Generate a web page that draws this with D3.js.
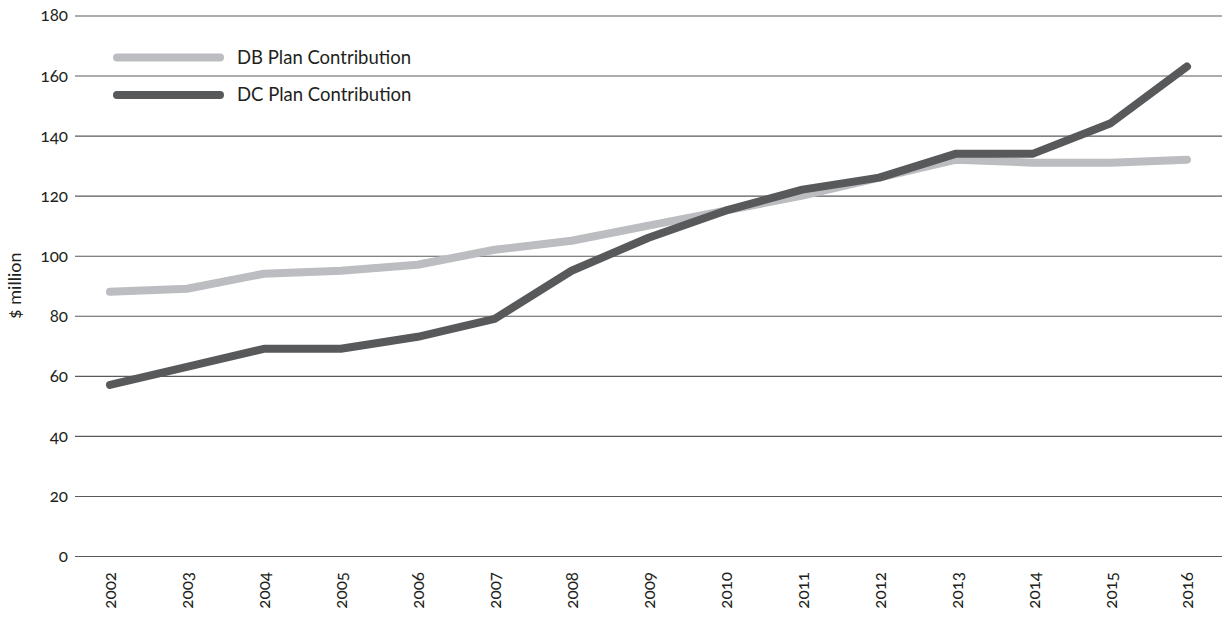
<!DOCTYPE html>
<html>
<head>
<meta charset="utf-8">
<script src="https://cdn.jsdelivr.net/npm/d3@7"></script>
<style>
  body { margin: 0; background: #fff; }
  svg text { font-family: Lato, "Open Sans", sans-serif; fill: #231f20; font-variant-numeric: oldstyle-nums; }
</style>
</head>
<body>
<div id="chart"></div>
<script>
const years = [2002, 2003, 2004, 2005, 2006, 2007, 2008, 2009, 2010, 2011, 2012, 2013, 2014, 2015, 2016]
const dbValues = [88, 89, 94, 95, 97, 102, 105, 110, 115, 120, 126, 132, 131, 131, 132]
const dcValues = [57, 63, 69, 69, 73, 79, 95, 106, 115, 122, 126, 134, 134, 144, 163]
const yTicks = [0, 20, 40, 60, 80, 100, 120, 140, 160, 180]
const seriesNames = ["DB Plan Contribution", "DC Plan Contribution"]
const seriesColors = ["#bcbdc0", "#58595b"]

const width = 1225, height = 619

const svg = d3.select("#chart").append("svg")
    .attr("width", width)
    .attr("height", height)

const x = d3.scalePoint()
    .domain(years)
    .range([110, 1187])

const y = d3.scaleLinear()
    .domain([0, 180])
    .range([556, 15.5])

// gridlines + y labels
const yAxis = d3.axisLeft(y)
    .tickValues(yTicks)
    .tickSize(-(1222 - 75))
    .tickPadding(7)

svg.append("g")
    .attr("transform", "translate(75,0)")
    .call(yAxis)
    .call(g => g.select(".domain").remove())
    .call(g => g.selectAll(".tick line").attr("stroke", "#5a5a5a").attr("stroke-width", 1.1))
    .call(g => g.selectAll(".tick text").attr("font-size", 17).attr("fill", "#231f20"))

// x labels, rotated
const xAxis = d3.axisBottom(x).tickSize(0).tickPadding(0)

svg.append("g")
    .attr("transform", "translate(0,572)")
    .call(xAxis)
    .call(g => g.select(".domain").remove())
    .call(g => g.selectAll(".tick text")
        .attr("font-size", 17)
        .attr("fill", "#231f20")
        .attr("text-anchor", "end")
        .attr("dy", "0.35em")
        .attr("transform", "rotate(-90)"))

svg.append("text")
    .attr("transform", "translate(21," + y(90) + ") rotate(-90)")
    .attr("text-anchor", "middle")
    .attr("font-size", 18)
    .text("$ million")

const line = d3.line()
    .x((d, i) => x(years[i]))
    .y(d => y(d))

const allSeries = [dbValues, dcValues]

svg.selectAll(".series")
    .data(allSeries)
    .join("path")
    .attr("class", "series")
    .attr("d", d => line(d))
    .attr("fill", "none")
    .attr("stroke", (d, i) => seriesColors[i])
    .attr("stroke-width", 8)
    .attr("stroke-linecap", "round")
    .attr("stroke-linejoin", "round")

// legend
const legend = svg.selectAll(".legend")
    .data(seriesNames)
    .join("g")
    .attr("class", "legend")
    .attr("transform", (d, i) => "translate(117," + (57.5 + i * 37.5) + ")")

legend.append("line")
    .attr("x1", 0)
    .attr("x2", 103)
    .attr("stroke", (d, i) => seriesColors[i])
    .attr("stroke-width", 8)
    .attr("stroke-linecap", "round")

legend.append("text")
    .attr("x", 120)
    .attr("dy", "0.35em")
    .attr("font-size", 18.5)
    .text(d => d)
</script>
</body>
</html>
